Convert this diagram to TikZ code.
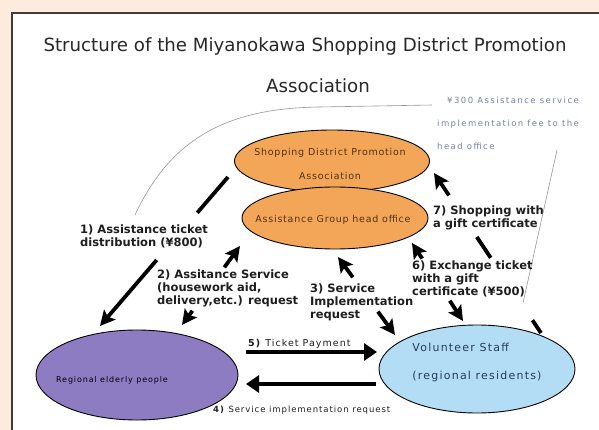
\documentclass[tikz,border=0pt]{standalone}
\usepackage{fontspec}
\setmainfont{DejaVu Sans}
\newfontfamily\spfont[LetterSpace=11]{DejaVu Sans}
\newfontfamily\ellfont[LetterSpace=8]{DejaVu Sans}
\newfontfamily\notefont[LetterSpace=17]{DejaVu Sans}
\usetikzlibrary{shapes.geometric,arrows.meta,calc}
\definecolor{peach}{RGB}{253,236,222}
\definecolor{framecol}{RGB}{70,58,50}
\definecolor{orangefill}{RGB}{244,166,88}
\definecolor{purplefill}{RGB}{142,124,195}
\definecolor{bluefill}{RGB}{178,221,245}
\definecolor{notecol}{RGB}{120,126,168}
\definecolor{labelcol}{RGB}{30,30,30}
\definecolor{titlecol}{RGB}{40,40,40}
\definecolor{browntext}{RGB}{80,50,20}
\definecolor{voltext}{RGB}{40,60,90}
\definecolor{greyline}{RGB}{150,150,150}
\begin{document}
\begin{tikzpicture}[x=1pt,y=-1pt,
  blob/.style={ellipse, draw=black, line width=0.9pt, inner sep=0pt},
  lbl/.style={anchor=north west, inner sep=0pt, align=left, text=labelcol,
              font=\fontsize{11.5}{12.8}\selectfont\bfseries},
  small/.style={inner sep=0pt, font=\spfont\fontsize{9}{11}\selectfont},
  heavy/.style={line width=3.8pt, draw=black},
  heavyarr/.style={heavy, -{Stealth[length=15pt,width=15pt,inset=3pt]}},
  flatarr/.style={line width=4.5pt, draw=black, -{Triangle[length=13pt,width=17pt]}},
  hairline/.style={draw=greyline, line width=0.6pt}]
\clip (0,0) rectangle (599,430);
\useasboundingbox (0,0) rectangle (599,430);
\fill[peach] (0,0) rectangle (599,430);
\draw[framecol, line width=2pt, fill=white] (12,13) rectangle (615,445);

% title
\node[font=\fontsize{18.2}{20}\selectfont, text=titlecol] (title1) at (305,46)
  {Structure of the Miyanokawa Shopping District Promotion};
\node[font=\fontsize{18.2}{20}\selectfont, text=titlecol] (title2) at (318,86) {Association};

% note and thin lines
\node[anchor=north west, inner sep=0pt, align=left, text=notecol,
      font=\notefont\fontsize{8.5}{23}\selectfont] (note) at (437,97)
  {\hspace*{10pt}¥300 Assistance service\\implementation fee to the\\head office};
\coordinate (c1) at (135,215);
\coordinate (c2) at (320,107);
\coordinate (c3) at (432,105);
\draw[hairline] (c1) .. controls (170,140) and (225,108) .. (c2) -- (c3);
\coordinate (r1) at (557,150);
\coordinate (r2) at (523,303);
\draw[hairline] (r1) -- (r2);

% ellipses
\node[blob, fill=orangefill, minimum width=195, minimum height=62] (sdpa) at (332,161) {};
\node[inner sep=0pt, align=center, text=browntext, font=\ellfont\fontsize{9.5}{24}\selectfont] (sdpatext) at (330,164)
  {Shopping District Promotion\\Association};
\node[blob, fill=orangefill, minimum width=186, minimum height=62] (agho) at (335,218) {};
\node[inner sep=0pt, text=browntext, font=\ellfont\fontsize{9.5}{11}\selectfont] (aghotext) at (333,220)
  {Assistance Group head office};
\node[blob, fill=purplefill, minimum width=202, minimum height=90] (eld) at (137,375) {};
\node[small, text=black, font=\spfont\fontsize{8}{10}\selectfont] (eldtext) at (112,380) {Regional elderly people};
\node[blob, fill=bluefill, minimum width=196, minimum height=88] (vol) at (477,369) {};
\node[inner sep=0pt, align=left, text=voltext, font=\spfont\fontsize{11}{28}\selectfont] (voltext) at (477,362)
  {Volunteer Staff\\(regional residents)};

% arrows
\coordinate (a1t) at (228,177); \coordinate (a1b) at (100,326);
\draw[heavy] (a1t) -- ($(a1t)!0.24!(a1b)$);
\draw[heavyarr] ($(a1t)!0.557!(a1b)$) -- (a1b);

\coordinate (a2t) at (240,246); \coordinate (a2b) at (182,325);
\draw[heavyarr] ($(a2t)!0.27!(a2b)$) -- (a2t);
\draw[heavyarr] ($(a2t)!0.82!(a2b)$) -- (a2b);

\coordinate (a3t) at (338,257); \coordinate (a3b) at (395,335);
\draw[heavyarr] ($(a3t)!0.26!(a3b)$) -- (a3t);
\draw[heavyarr] ($(a3t)!0.7!(a3b)$) -- (a3b);

\coordinate (a6t) at (412,243); \coordinate (a6b) at (463,321);
\draw[heavyarr] ($(a6t)!0.2!(a6b)$) -- (a6t);
\draw[heavyarr] ($(a6t)!0.74!(a6b)$) -- (a6b);

\coordinate (a7t) at (434,173); \coordinate (a7b) at (541,333);
\draw[heavyarr] ($(a7t)!0.14!(a7b)$) -- (a7t);
\draw[heavy] ($(a7t)!0.40!(a7b)$) -- ($(a7t)!0.53!(a7b)$);
\draw[heavy] ($(a7t)!0.92!(a7b)$) -- (a7b);

\coordinate (a5s) at (246,352); \coordinate (a5e) at (377,352);
\draw[flatarr] (a5s) -- (a5e);
\coordinate (a4s) at (376,384); \coordinate (a4e) at (246,384);
\draw[flatarr] (a4s) -- (a4e);

% labels
\node[lbl, font=\fontsize{11.5}{13}\selectfont\bfseries] (l1) at (80,225) {1) Assistance ticket\\distribution (¥800)};
\node[lbl] (l2) at (157,270) {2) Assitance Service\\(housework aid,\\delivery,etc.) request};
\node[lbl] (l3) at (310,284) {3) Service\\Implementation\\request};
\node[lbl] (l6) at (412,261) {6) Exchange ticket\\with a gift\\certificate (¥500)};
\node[lbl] (l7) at (433,206) {7) Shopping with\\a gift certificate};
\node[small, anchor=base west, text=labelcol, font=\spfont\fontsize{9.5}{11}\selectfont] (l5) at (248,346)
  {\textbf{5)} Ticket Payment};
\node[small, anchor=base west, text=labelcol, font=\spfont\fontsize{8.5}{11}\selectfont] (l4) at (213,412)
  {\textbf{4)} Service implementation request};
\end{tikzpicture}
\end{document}
